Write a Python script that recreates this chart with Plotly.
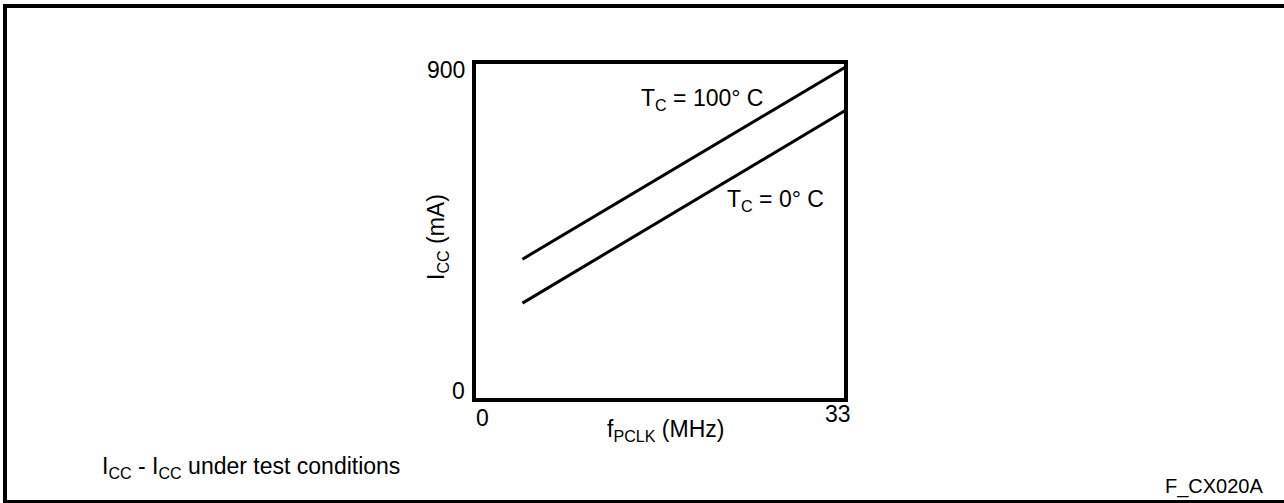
import plotly.graph_objects as go

# ---- data ----
FREQ_MHZ = [4.3, 33]
ICC_100C = [375, 887]
ICC_0C = [258, 772]
X_TICKS = [0, 33]
Y_TICKS = [0, 900]
X_RANGE = [0, 33]
Y_RANGE = [0, 900]

W, H = 1284, 503
ML, MR, MT, MB = 474, 438, 62, 103
PW, PH = W - ML - MR, H - MT - MB


def px(x):
    return (x - ML) / PW


def py(y):
    return (H - MB - y) / PH


FONT = "Liberation Sans, Arial, sans-serif"

fig = go.Figure()
fig.add_trace(go.Scatter(x=FREQ_MHZ, y=ICC_100C, mode="lines",
                         line=dict(color="black", width=3), hoverinfo="skip",
                         name="TC = 100° C"))
fig.add_trace(go.Scatter(x=FREQ_MHZ, y=ICC_0C, mode="lines",
                         line=dict(color="black", width=3), hoverinfo="skip",
                         name="TC = 0° C"))

ann = []
# y tick labels
ann.append(dict(x=X_RANGE[0], y=Y_TICKS[1], xref="x", yref="y", text=str(Y_TICKS[1]),
                xanchor="right", yanchor="middle", xshift=-7, yshift=-8, showarrow=False))
ann.append(dict(x=X_RANGE[0], y=Y_TICKS[0], xref="x", yref="y", text=str(Y_TICKS[0]),
                xanchor="right", yanchor="middle", xshift=-7, yshift=9, showarrow=False))
# x tick labels
ann.append(dict(x=X_TICKS[0], y=Y_RANGE[0], xref="x", yref="y", text=str(X_TICKS[0]),
                xanchor="center", yanchor="middle", xshift=8, yshift=-17.5, showarrow=False))
ann.append(dict(x=X_TICKS[1], y=Y_RANGE[0], xref="x", yref="y", text=str(X_TICKS[1]),
                xanchor="center", yanchor="middle", xshift=-8, yshift=-14, showarrow=False))
# axis titles
ann.append(dict(x=px(665), y=py(431), xref="paper", yref="paper",
                text="f<sub>PCLK</sub> (MHz)", xanchor="center", yanchor="middle",
                showarrow=False))
ann.append(dict(x=px(437), y=py(237), xref="paper", yref="paper",
                text="I<sub>CC</sub> (mA)", textangle=-90, xanchor="center",
                yanchor="middle", showarrow=False))
# curve labels
ann.append(dict(x=14.64, y=799, xref="x", yref="y", text="T<sub>C</sub> = 100° C",
                xanchor="left", yanchor="middle", showarrow=False))
ann.append(dict(x=22.27, y=530, xref="x", yref="y", text="T<sub>C</sub> = 0° C",
                xanchor="left", yanchor="middle", showarrow=False))
# notes
ann.append(dict(x=px(100), y=py(467), xref="paper", yref="paper",
                text="I<sub>CC</sub> - I<sub>CC</sub> under test conditions",
                xanchor="left", yanchor="middle", showarrow=False))
ann.append(dict(x=px(1265), y=py(487), xref="paper", yref="paper",
                text="F_CX020A", xanchor="right", yanchor="middle", showarrow=False,
                font=dict(size=20)))

shapes = [
    # plot box
    dict(type="rect", xref="paper", yref="paper", x0=0, x1=1, y0=0, y1=1,
         line=dict(color="black", width=4), layer="above"),
    # outer frame (top, left, bottom)
    dict(type="line", xref="paper", yref="paper", x0=px(3), x1=px(1300), y0=py(6), y1=py(6),
         line=dict(color="black", width=4)),
    dict(type="line", xref="paper", yref="paper", x0=px(5), x1=px(5), y0=py(4), y1=py(510),
         line=dict(color="black", width=4)),
    dict(type="line", xref="paper", yref="paper", x0=px(3), x1=px(1300), y0=py(502), y1=py(502),
         line=dict(color="black", width=4)),
]

fig.update_layout(
    width=W, height=H,
    margin=dict(l=ML, r=MR, t=MT, b=MB, pad=0),
    paper_bgcolor="white", plot_bgcolor="white",
    showlegend=False,
    font=dict(family=FONT, size=23, color="black"),
    xaxis=dict(range=X_RANGE, showgrid=False, zeroline=False, showticklabels=False,
               ticks="", showline=False, fixedrange=True),
    yaxis=dict(range=Y_RANGE, showgrid=False, zeroline=False, showticklabels=False,
               ticks="", showline=False, fixedrange=True),
    annotations=ann,
    shapes=shapes,
)

fig.write_html("out.html", config=dict(displayModeBar=False),
               post_script="document.body.style.margin='0';")
